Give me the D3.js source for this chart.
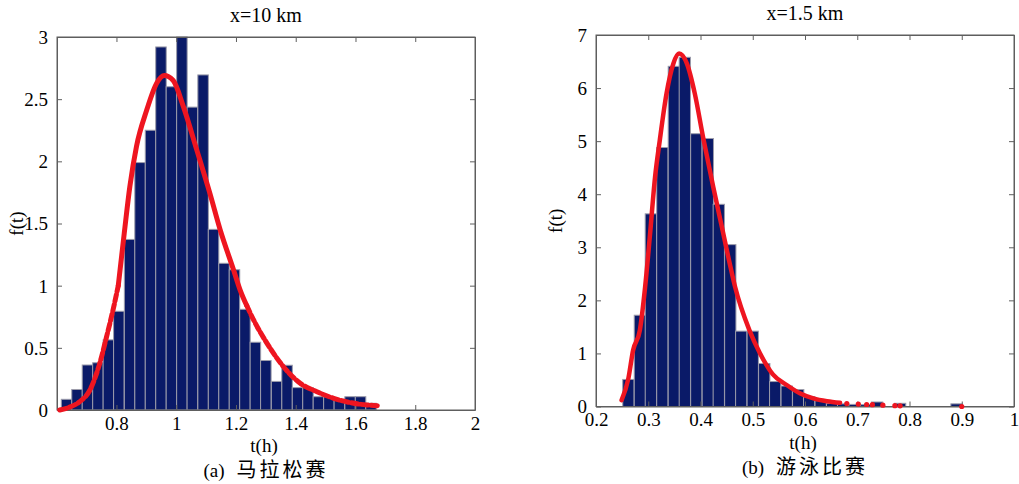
<!DOCTYPE html>
<html>
<head>
<meta charset="utf-8">
<script src="https://cdn.jsdelivr.net/npm/d3@7"></script>
<style>
  html, body { margin: 0; padding: 0; background: #fff; }
  svg { display: block; }
  .tick text, .lbl { font-family: "Liberation Serif", "Times New Roman", serif; fill: #000; }
  .cap { font-family: "Noto Sans CJK SC", sans-serif; fill: #000; }
</style>
</head>
<body>
<svg id="chart" width="1019" height="484"></svg>
<script>
// ---------- (a) marathon, x = 10 km ----------
const marathonBinCenters = [0.633, 0.668, 0.703, 0.738, 0.773, 0.808, 0.844, 0.879, 0.914, 0.949,
                            0.984, 1.019, 1.054, 1.090, 1.125, 1.160, 1.195, 1.230, 1.265, 1.300,
                            1.336, 1.371, 1.406, 1.441, 1.476, 1.511, 1.546, 1.582, 1.617, 1.652];
const marathonBinWidth = 0.0352;
const marathonDensity = [0.086, 0.165, 0.362, 0.38, 0.564, 0.794, 1.372, 1.99, 2.25, 2.92,
                         2.60, 3.0, 2.436, 2.695, 1.453, 1.18, 1.128, 0.81, 0.545, 0.398,
                         0.23, 0.36, 0.18, 0.18, 0.107, 0.107, 0.086, 0.107, 0.107, 0.054];
const marathonFitT = [0.61, 0.645, 0.677, 0.711, 0.744, 0.767, 0.790, 0.806, 0.826, 0.845,
                      0.867, 0.901, 0.935, 0.960, 0.990, 1.024, 1.069, 1.113, 1.147, 1.192,
                      1.214, 1.236, 1.259, 1.304, 1.359, 1.415, 1.471, 1.527, 1.583, 1.639, 1.673];
const marathonFitF = [0.0, 0.025, 0.067, 0.16, 0.375, 0.59, 0.82, 1.0, 1.42, 1.80,
                      2.12, 2.41, 2.63, 2.69, 2.65, 2.44, 2.09, 1.74, 1.45, 1.126,
                      0.965, 0.84, 0.724, 0.536, 0.348, 0.215, 0.147, 0.094, 0.059, 0.04, 0.035];
const marathonXTicks = [0.8, 1, 1.2, 1.4, 1.6, 1.8, 2];
const marathonYTicks = [0, 0.5, 1, 1.5, 2, 2.5, 3];

// ---------- (b) swimming, x = 1.5 km ----------
const swimBinCenters = [0.262, 0.284, 0.305, 0.327, 0.349, 0.370, 0.392, 0.414, 0.435, 0.457,
                        0.478, 0.500, 0.522, 0.543, 0.565, 0.587, 0.608, 0.630, 0.652, 0.673,
                        0.695, 0.717, 0.738, 0.760, 0.782, 0.803, 0.825, 0.846, 0.868, 0.890];
const swimBinWidth = 0.02165;
const swimDensity = [0.51, 1.72, 3.63, 4.88, 6.41, 6.58, 5.14, 5.05, 3.81, 3.05,
                     1.42, 1.42, 0.81, 0.47, 0.386, 0.32, 0.185, 0.11, 0.06, 0.05,
                     0.04, 0.035, 0.085, 0, 0.06, 0, 0, 0, 0, 0.05];
const swimFitT = [0.249, 0.262, 0.271, 0.284, 0.294, 0.303, 0.313, 0.322, 0.335, 0.348,
                  0.359, 0.374, 0.389, 0.405, 0.4245, 0.4405, 0.456, 0.466, 0.4935, 0.514,
                  0.539, 0.565, 0.590, 0.616, 0.642, 0.667];
const swimFitF = [0.12, 0.53, 1.06, 1.44, 2.25, 3.2, 4.32, 5.01, 5.9, 6.46,
                  6.65, 6.46, 5.9, 5.07, 4.13, 3.4, 2.69, 2.26, 1.44, 1.0,
                  0.6, 0.405, 0.25, 0.154, 0.10, 0.07];
const swimTailT = [0.68, 0.702, 0.718, 0.729, 0.749, 0.772, 0.782, 0.9];
const swimTailF = [0.055, 0.045, 0.038, 0.034, 0.025, 0.015, 0.012, 0.0];
const swimXTicks = [0.2, 0.3, 0.4, 0.5, 0.6, 0.7, 0.8, 0.9, 1];
const swimYTicks = [0, 1, 2, 3, 4, 5, 6, 7];

const BAR_FILL = "#0a1a68";
const BAR_EDGE = "#9c9cab";
const FIT_RED = "#ee1520";
const AXIS_GRAY = "#5f5f5f";

const svg = d3.select("#chart");

function panel(opts) {
  const { left, right, top, bottom, xDomain, yDomain, xTicks, yTicks,
          centers, width, density, title, caption } = opts;
  const x = d3.scaleLinear().domain(xDomain).range([left, right]);
  const y = d3.scaleLinear().domain(yDomain).range([bottom, top]);
  const g = svg.append("g");

  // histogram bars
  g.append("g").selectAll("rect")
    .data(density.map((v, i) => ({ c: centers[i], v })).filter(d => d.v > 0))
    .join("rect")
    .attr("x", d => x(d.c - width / 2))
    .attr("width", d => x(d.c + width / 2) - x(d.c - width / 2))
    .attr("y", d => y(Math.min(d.v, yDomain[1])))
    .attr("height", d => y(0) - y(Math.min(d.v, yDomain[1])))
    .attr("fill", BAR_FILL)
    .attr("stroke", BAR_EDGE)
    .attr("stroke-width", 1);

  // axes: ticks point inward on all four sides, MATLAB box style
  const tickLen = 5;
  const fmt = d => String(d);
  const axB = g.append("g").attr("transform", `translate(0,${bottom})`)
    .call(d3.axisBottom(x).tickValues(xTicks).tickFormat(fmt).tickSizeInner(-tickLen).tickSizeOuter(0).tickPadding(7));
  const axT = g.append("g").attr("transform", `translate(0,${top})`)
    .call(d3.axisTop(x).tickValues(xTicks).tickFormat("").tickSizeInner(-tickLen).tickSizeOuter(0));
  const axL = g.append("g").attr("transform", `translate(${left},0)`)
    .call(d3.axisLeft(y).tickValues(yTicks).tickFormat(fmt).tickSizeInner(-tickLen).tickSizeOuter(0).tickPadding(9));
  const axR = g.append("g").attr("transform", `translate(${right},0)`)
    .call(d3.axisRight(y).tickValues(yTicks).tickFormat("").tickSizeInner(-tickLen).tickSizeOuter(0));
  [axB, axT, axL, axR].forEach(a => {
    a.select(".domain").attr("stroke", AXIS_GRAY);
    a.selectAll(".tick line").attr("stroke", AXIS_GRAY);
    a.selectAll(".tick text").style("font-size", "19px");
  });
  axB.selectAll(".tick text").attr("dy", "0.68em");
  axL.selectAll(".tick text").attr("dy", "0.34em");
  // box outline
  g.append("rect").attr("x", left).attr("y", top)
    .attr("width", right - left).attr("height", bottom - top)
    .attr("fill", "none").attr("stroke", AXIS_GRAY).attr("stroke-width", 1);

  g.append("text").attr("class", "lbl")
    .attr("x", (left + right) / 2).attr("y", top - 15)
    .attr("text-anchor", "middle").style("font-size", "20px").text(title);
  g.append("text").attr("class", "lbl")
    .attr("x", (left + right) / 2 - 2).attr("y", bottom + 42)
    .attr("text-anchor", "middle").style("font-size", "19px").text("t(h)");
  g.append("text").attr("class", "lbl")
    .attr("transform", `translate(${left - 34},${(top + bottom) / 2}) rotate(-90)`)
    .attr("text-anchor", "middle").style("font-size", "19px").text("f(t)");

  const cap = g.append("text").attr("x", (left + right) / 2).attr("y", bottom + 67)
    .attr("text-anchor", "middle");
  cap.append("tspan").attr("class", "lbl").style("font-size", "19px").text(caption[0]);
  cap.append("tspan").attr("class", "cap").attr("dx", 12).style("font-size", "20px")
    .style("letter-spacing", "3px").text(caption[1]);

  return { g, x, y };
}

// ----- panel (a)
const pa = panel({
  left: 57, right: 475, top: 37, bottom: 410,
  xDomain: [0.601, 2], yDomain: [0, 3],
  xTicks: marathonXTicks, yTicks: marathonYTicks,
  centers: marathonBinCenters, width: marathonBinWidth, density: marathonDensity,
  title: "x=10 km", caption: ["(a)", "马拉松赛"]
});
{
  const pts = marathonFitT.map((t, i) => [t, marathonFitF[i]]);
  const line = d3.line().x(d => pa.x(d[0])).y(d => pa.y(d[1])).curve(d3.curveMonotoneX);
  const segs = [
    { p: pts.filter(d => d[0] <= 0.806), dash: "7,3" },
    { p: pts.filter(d => d[0] >= 0.806 && d[0] <= 1.236), dash: null },
    { p: pts.filter(d => d[0] >= 1.236), dash: "7,3" }
  ];
  segs.forEach(s => {
    pa.g.append("path").attr("d", line(s.p))
      .attr("fill", "none").attr("stroke", FIT_RED).attr("stroke-width", 5)
      .attr("stroke-linecap", "round").attr("stroke-linejoin", "round")
      .attr("stroke-dasharray", s.dash);
  });
}

// ----- panel (b)
const pb = panel({
  left: 596, right: 1014, top: 35, bottom: 406.5,
  xDomain: [0.2, 1], yDomain: [0, 7],
  xTicks: swimXTicks, yTicks: swimYTicks,
  centers: swimBinCenters, width: swimBinWidth, density: swimDensity,
  title: "x=1.5 km", caption: ["(b)", "游泳比赛"]
});
{
  const pts = swimFitT.map((t, i) => [t, swimFitF[i]]);
  const line = d3.line().x(d => pb.x(d[0])).y(d => pb.y(d[1])).curve(d3.curveMonotoneX);
  pb.g.append("path").attr("d", line(pts))
    .attr("fill", "none").attr("stroke", FIT_RED).attr("stroke-width", 4.5)
    .attr("stroke-linecap", "round").attr("stroke-linejoin", "round");
  pb.g.append("g").selectAll("circle")
    .data(swimTailT.map((t, i) => [t, swimTailF[i]]))
    .join("circle")
    .attr("cx", d => pb.x(d[0])).attr("cy", d => pb.y(d[1])).attr("r", 2.6)
    .attr("fill", FIT_RED);
}
</script>
</body>
</html>
